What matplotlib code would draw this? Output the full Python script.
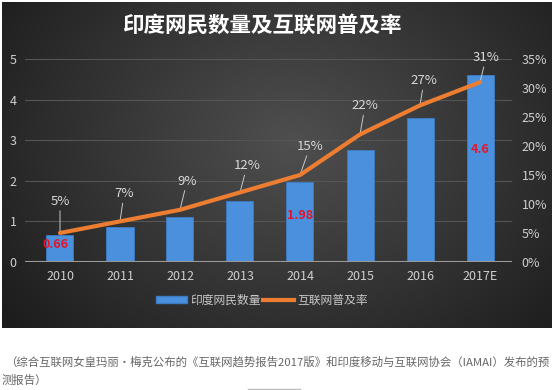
import numpy as np
import matplotlib
matplotlib.use('Agg')
import matplotlib.pyplot as plt
from matplotlib import patches, lines

plt.rcParams['font.family'] = ['Noto Sans CJK SC', 'DejaVu Sans']

years = ['2010', '2011', '2012', '2013', '2014', '2015', '2016', '2017E']
users = [0.66, 0.85, 1.12, 1.50, 1.98, 2.77, 3.55, 4.60]   # 亿
rate = [5, 7, 9, 12, 15, 22, 27, 31]                        # %
red_idx = [0, 4, 7]                                          # bars with red value labels
title = '印度网民数量及互联网普及率'
caption1 = '（综合互联网女皇玛丽·梅克公布的《互联网趋势报告2017版》和印度移动与互联网协会（IAMAI）发布的预'
caption2 = '测报告）'

W, H = 554, 390
def fx(px): return px / W
def fy(py): return 1 - py / H

fig = plt.figure(figsize=(W / 100, H / 100), dpi=100, facecolor='white')

# dark panel with radial gradient
bg = fig.add_axes([fx(2), fy(328), fx(550), 326 / H])
yy, xx = np.mgrid[0:326, 0:550]
d = np.sqrt(((xx - 290) / 330.0) ** 2 + ((yy - 140) / 260.0) ** 2)
shade = np.clip(0.31 - 0.18 * d, 0.11, 0.31)
bg.imshow(np.dstack([shade, shade, shade]), aspect='auto', interpolation='bilinear')
bg.axis('off')

# main axes
ax = fig.add_axes([fx(25), fy(262), fx(512 - 25), 203 / H])
ax.set_facecolor('none')
x = np.arange(len(years))
bars = ax.bar(x, users, width=0.45, color='#4a90dd', edgecolor='#3c7cc4', linewidth=0.6, zorder=2)
ax.set_xlim(-35 / 60, 7 + 32 / 60)
ax.set_ylim(0, 5)
ax.set_yticks(range(6))
ax.set_xticks(x)
ax.set_xticklabels(years)
for s in ax.spines.values():
    s.set_visible(False)
ax.grid(axis='y', color='#555555', linewidth=0.8, zorder=0)
ax.axhline(0, color='#9a9a9a', linewidth=1.5, zorder=3)
ax.tick_params(length=0, colors='#cfcfcf', labelsize=9)
ax.tick_params(axis='x', pad=6)
ax.tick_params(axis='y', pad=6)

for i in red_idx:
    ypos = {0: 0.42, 4: 1.14, 7: 2.77}[i]
    xoff = -0.08 if i == 0 else 0
    ax.text(i + xoff, ypos, f'{users[i]:g}', color='#e8142a', fontsize=9,
            fontweight='bold', ha='center', va='center', zorder=4)

ax2 = ax.twinx()
ax2.set_ylim(0, 35)
ax2.set_yticks(range(0, 40, 5))
ax2.set_yticklabels([f'{v}%' for v in range(0, 40, 5)])
for s in ax2.spines.values():
    s.set_visible(False)
ax2.tick_params(length=0, colors='#cfcfcf', labelsize=9, pad=7)
ax2.plot(x, rate, color='#ed7d31', linewidth=3, solid_capstyle='round', zorder=5)

offsets = [(0, 25), (4, 21), (7, 22), (7, 20), (10, 22), (5, 22), (4, 18), (6, 18)]
for i, (r, off) in enumerate(zip(rate, offsets)):
    ax2.annotate(f'{r}%', xy=(i, r), xytext=off, textcoords='offset pixels',
                 ha='center', va='bottom', color='#d8d8d8', fontsize=9.5,
                 arrowprops=dict(arrowstyle='-', color='#c8c8c8', lw=0.7,
                                 shrinkA=0, shrinkB=1))

fig.text(fx(262), fy(25), title, color='white', fontsize=15.5, fontweight='bold',
         ha='center', va='center')

handles = [patches.Patch(facecolor='#4a90dd', edgecolor='#3c7cc4'),
           lines.Line2D([], [], color='#ed7d31', linewidth=3)]
fig.legend(handles, ['印度网民数量', '互联网普及率'], loc='center',
           bbox_to_anchor=(fx(262), fy(300)), ncol=2, frameon=False,
           fontsize=8.5, labelcolor='#c8c8c8', handlelength=2.6, handleheight=0.5,
           columnspacing=0.2, handletextpad=0.3)

fig.text(fx(5), fy(362), caption1, color='#666666', fontsize=8.2, ha='left', va='center')
fig.text(fx(2), fy(380), caption2, color='#666666', fontsize=8.2, ha='left', va='center')
fig.add_artist(lines.Line2D([fx(248), fx(300)], [fy(389), fy(389)], color='#bbbbbb', linewidth=1))

fig.savefig('out.png', dpi=100, facecolor='white')
